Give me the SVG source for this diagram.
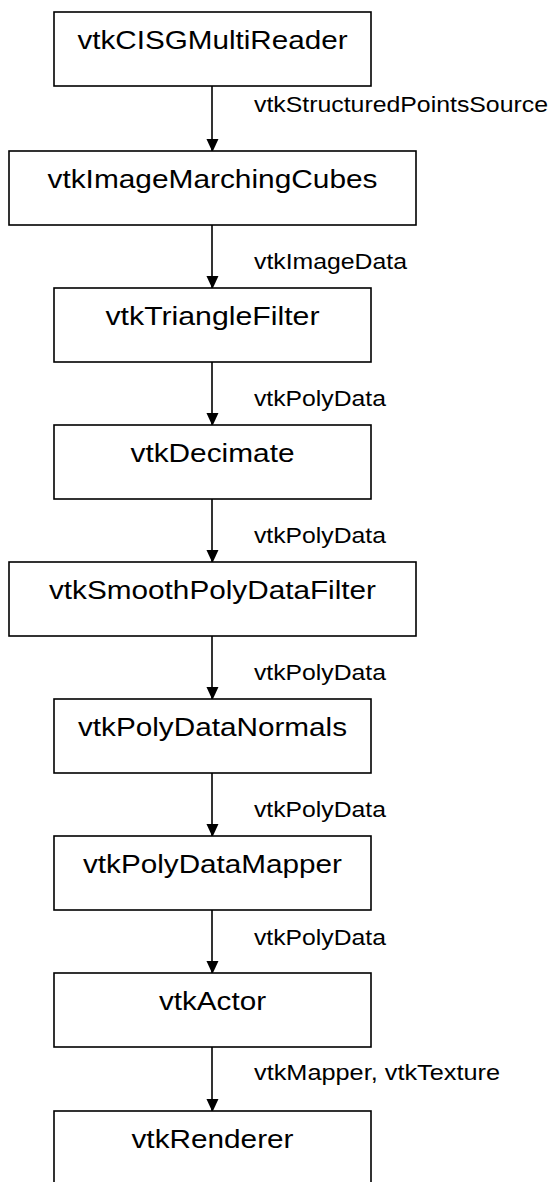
<svg xmlns="http://www.w3.org/2000/svg" width="552" height="1182" viewBox="0 0 552 1182">
<style>
.box{fill:#fff;stroke:#000;stroke-width:1.6}
.nt{font-family:"Liberation Sans",Arial,sans-serif;font-size:26.5px;fill:#000;text-anchor:middle}
.lt{font-family:"Liberation Sans",Arial,sans-serif;font-size:22px;fill:#000}
.edge{stroke:#000;stroke-width:1.6;fill:none}
</style>
<defs>
<marker id="arr" markerWidth="13" markerHeight="14" refX="13" refY="7" orient="auto" markerUnits="userSpaceOnUse" viewBox="0 0 14 13">
<path d="M0,0 L14,6.5 L0,13 z" fill="#000"/>
</marker>
</defs>
<rect width="552" height="1182" fill="#fff"/>
<g id="connectors">
<line class="edge" x1="212" y1="86" x2="212" y2="151" marker-end="url(#arr)"/>
<line class="edge" x1="212" y1="225" x2="212" y2="288" marker-end="url(#arr)"/>
<line class="edge" x1="212" y1="362" x2="212" y2="425" marker-end="url(#arr)"/>
<line class="edge" x1="212" y1="499" x2="212" y2="562" marker-end="url(#arr)"/>
<line class="edge" x1="212" y1="636" x2="212" y2="699" marker-end="url(#arr)"/>
<line class="edge" x1="212" y1="773" x2="212" y2="836" marker-end="url(#arr)"/>
<line class="edge" x1="212" y1="910" x2="212" y2="973" marker-end="url(#arr)"/>
<line class="edge" x1="212" y1="1047" x2="212" y2="1111" marker-end="url(#arr)"/>
<text class="lt" x="254" y="112" textLength="294" lengthAdjust="spacingAndGlyphs">vtkStructuredPointsSource</text>
<text class="lt" x="254" y="269" textLength="153" lengthAdjust="spacingAndGlyphs">vtkImageData</text>
<text class="lt" x="254" y="406" textLength="132" lengthAdjust="spacingAndGlyphs">vtkPolyData</text>
<text class="lt" x="254" y="543" textLength="132" lengthAdjust="spacingAndGlyphs">vtkPolyData</text>
<text class="lt" x="254" y="680" textLength="132" lengthAdjust="spacingAndGlyphs">vtkPolyData</text>
<text class="lt" x="254" y="817" textLength="132" lengthAdjust="spacingAndGlyphs">vtkPolyData</text>
<text class="lt" x="254" y="945" textLength="132" lengthAdjust="spacingAndGlyphs">vtkPolyData</text>
<text class="lt" x="254" y="1080" textLength="246" lengthAdjust="spacingAndGlyphs">vtkMapper, vtkTexture</text>
</g>
<g id="n1"><rect class="box" x="54" y="12" width="317" height="74"/><text class="nt" x="212.5" y="49" textLength="270" lengthAdjust="spacingAndGlyphs">vtkCISGMultiReader</text></g>
<g id="n2"><rect class="box" x="9" y="151" width="407" height="74"/><text class="nt" x="212.5" y="188" textLength="330" lengthAdjust="spacingAndGlyphs">vtkImageMarchingCubes</text></g>
<g id="n3"><rect class="box" x="54" y="288" width="317" height="74"/><text class="nt" x="212.5" y="325" textLength="214" lengthAdjust="spacingAndGlyphs">vtkTriangleFilter</text></g>
<g id="n4"><rect class="box" x="54" y="425" width="317" height="74"/><text class="nt" x="212.5" y="462" textLength="164" lengthAdjust="spacingAndGlyphs">vtkDecimate</text></g>
<g id="n5"><rect class="box" x="9" y="562" width="407" height="74"/><text class="nt" x="212.5" y="599" textLength="327" lengthAdjust="spacingAndGlyphs">vtkSmoothPolyDataFilter</text></g>
<g id="n6"><rect class="box" x="54" y="699" width="317" height="74"/><text class="nt" x="212.5" y="736" textLength="269" lengthAdjust="spacingAndGlyphs">vtkPolyDataNormals</text></g>
<g id="n7"><rect class="box" x="54" y="836" width="317" height="74"/><text class="nt" x="212.5" y="873" textLength="259" lengthAdjust="spacingAndGlyphs">vtkPolyDataMapper</text></g>
<g id="n8"><rect class="box" x="54" y="973" width="317" height="74"/><text class="nt" x="212.5" y="1010" textLength="107" lengthAdjust="spacingAndGlyphs">vtkActor</text></g>
<g id="n9"><rect class="box" x="54" y="1111" width="317" height="74"/><text class="nt" x="212.5" y="1148" textLength="162" lengthAdjust="spacingAndGlyphs">vtkRenderer</text></g>
</svg>
